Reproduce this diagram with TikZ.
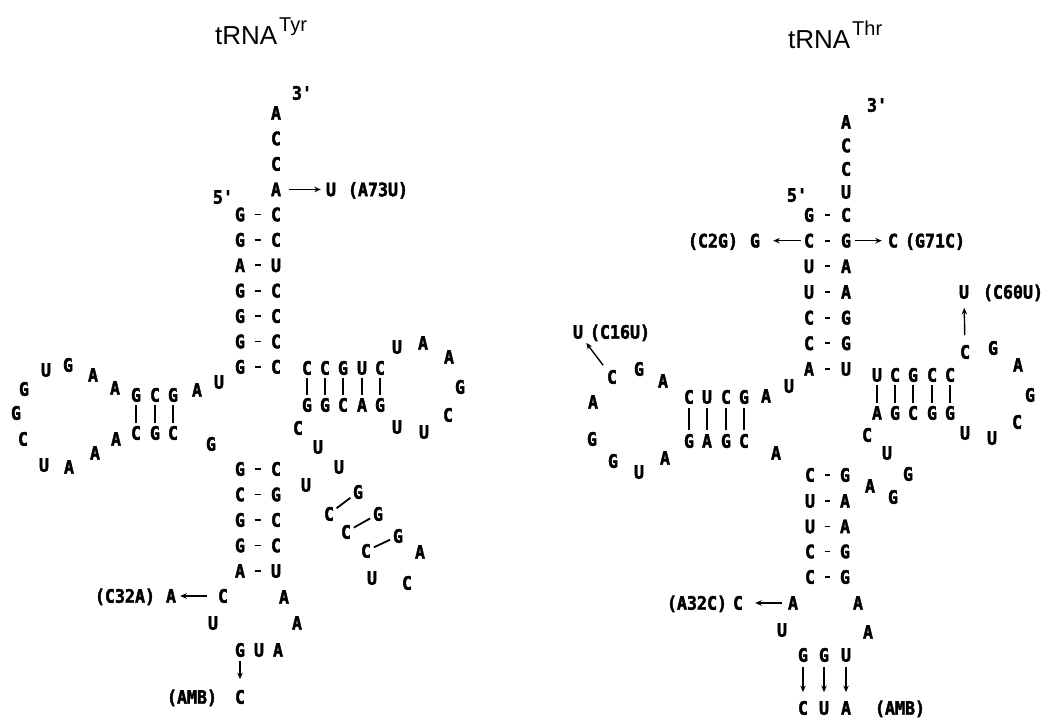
\documentclass[tikz,border=0pt]{standalone}
\usepackage{fontspec}
\usetikzlibrary{arrows.meta}
\newfontfamily\ntfont{DejaVu Sans Mono}[FakeStretch=0.9, BoldFeatures={FakeBold=2.2}]
\newfontfamily\ttlfont{Liberation Sans}
\newcommand\nuc[4]{\node[nt] (#1) at (#2,#3) {#4};}
\begin{document}
\begin{tikzpicture}[x=1pt,y=-1pt,
  nt/.style={font=\ntfont\bfseries\fontsize{18.5}{18.5}\selectfont, inner sep=0pt, text height=13.4pt, text depth=0pt},
  ttl/.style={font=\ttlfont\fontsize{26}{26}\selectfont, inner sep=0pt, anchor=base west},
  ttls/.style={font=\ttlfont\fontsize{20}{20}\selectfont, inner sep=0pt, anchor=base west},
  pr/.style={line width=1.8pt, shorten <=9.5pt, shorten >=9.5pt},
  prR/.style={line width=1.8pt, shorten <=10.5pt, shorten >=10.5pt},
  vb/.style={line width=1.8pt, shorten <=3pt, shorten >=3pt},
  db/.style={line width=1.8pt, shorten <=3pt, shorten >=3pt},
  mut/.style={line width=1.4pt, -{Stealth[length=6.5pt,width=5.5pt]}}]
\fill[white] (0,0) rectangle (1048,721);
\useasboundingbox (0,0) rectangle (1048,721);
% ================= tRNA Tyr =================
\node[ttl] (LT) at (215,44) {tRNA};
\node[ttls] (LTs) at (279,31) {Tyr};
\nuc{L3p}{302}{93}{3'}
\nuc{La1}{276}{113}{A}
\nuc{La2}{276}{138.5}{C}
\nuc{La3}{276}{164}{C}
\nuc{La4}{276}{189.5}{A}
\nuc{LmU}{331}{189.5}{U}
\nuc{LmUl}{378}{189.5}{(A73U)}
\draw[mut, shorten <=8pt, shorten >=5pt] (La4) -- (LmU);
\nuc{L5p}{223}{197}{5'}
% acceptor stem
\foreach \n/\y/\a/\b in {1/214.5/G/C,2/239.9/G/C,3/265.3/A/U,4/290.7/G/C,5/316.1/G/C,6/341.5/G/C,7/366.9/G/C}{
  \node[nt] (Ls\n l) at (240,\y) {\a};
  \node[nt] (Ls\n r) at (276,\y) {\b};
  \draw[pr] (Ls\n l) -- (Ls\n r);
}
% D arm
\nuc{Ld1}{219}{382}{U}
\nuc{Ld2}{197}{390}{A}
\nuc{Ld3}{173}{395}{G}
\nuc{Ld4}{155}{395}{C}
\nuc{Ld5}{136}{395}{G}
\nuc{Ld6}{115}{388}{A}
\nuc{Ld7}{93}{375}{A}
\nuc{Ld8}{68}{365}{G}
\nuc{Ld9}{46}{370}{U}
\nuc{Ld10}{24}{389}{G}
\nuc{Ld11}{16}{413}{G}
\nuc{Ld12}{23}{439}{C}
\nuc{Ld13}{44}{465}{U}
\nuc{Ld14}{69}{467}{A}
\nuc{Ld15}{95}{453}{A}
\nuc{Ld16}{116}{439}{A}
\nuc{Ld17}{136}{433}{C}
\nuc{Ld18}{155}{433}{G}
\nuc{Ld19}{173}{433}{C}
\nuc{Ld20}{211}{444}{G}
\draw[vb] (Ld5) -- (Ld17);
\draw[vb] (Ld4) -- (Ld18);
\draw[vb] (Ld3) -- (Ld19);
% T arm
\foreach \n/\x/\a/\b in {1/307/C/G,2/325/C/G,3/343/G/C,4/362/U/A,5/380/C/G}{
  \node[nt] (Lt\n u) at (\x,368) {\a};
  \node[nt] (Lt\n d) at (\x,405) {\b};
  \draw[vb] (Lt\n u) -- (Lt\n d);
}
\nuc{Ltl1}{397}{347}{U}
\nuc{Ltl2}{423}{343}{A}
\nuc{Ltl3}{449}{357}{A}
\nuc{Ltl4}{460}{387}{G}
\nuc{Ltl5}{448}{415}{C}
\nuc{Ltl6}{424}{432}{U}
\nuc{Ltl7}{397}{427}{U}
% variable arm
\nuc{Lv1}{298}{428}{C}
\nuc{Lv2}{318}{447}{U}
\nuc{Lv3}{339}{467}{U}
\nuc{Lv4}{306}{485}{U}
\nuc{Lv5}{358}{492}{G}
\nuc{Lv6}{329}{514}{C}
\nuc{Lv7}{378}{514}{G}
\nuc{Lv8}{346}{532}{C}
\nuc{Lv9}{398}{536}{G}
\nuc{Lv10}{366}{551}{C}
\nuc{Lv11}{420}{552}{A}
\nuc{Lv12}{407}{583}{C}
\nuc{Lv13}{372}{578}{U}
\draw[db] (Lv6) -- (Lv5);
\draw[db] (Lv8) -- (Lv7);
\draw[db] (Lv10) -- (Lv9);
% anticodon stem
\foreach \n/\y/\a/\b in {1/469/G/C,2/494.5/C/G,3/520/G/C,4/545.5/G/C,5/571/A/U}{
  \node[nt] (Lc\n l) at (240,\y) {\a};
  \node[nt] (Lc\n r) at (276,\y) {\b};
  \draw[pr] (Lc\n l) -- (Lc\n r);
}
\nuc{Lal1}{223}{596}{C}
\nuc{Lal2}{213}{623}{U}
\nuc{Lal3}{240}{650}{G}
\nuc{Lal4}{259}{650}{U}
\nuc{Lal5}{278}{650}{A}
\nuc{Lal6}{297}{623}{A}
\nuc{Lal7}{284}{597}{A}
\nuc{LmA}{171}{596}{A}
\nuc{LmAl}{125}{596}{(C32A)}
\draw[mut, shorten <=11pt, shorten >=4pt] (Lal1) -- (LmA);
\nuc{LmC}{240}{697}{C}
\nuc{LmCl}{192}{697}{(AMB)}
\draw[mut, shorten <=4pt, shorten >=11pt] (Lal3) -- (LmC);
% ================= tRNA Thr =================
\node[ttl] (RT) at (788,48) {tRNA};
\node[ttls] (RTs) at (852,35) {Thr};
\nuc{R3p}{877}{105}{3'}
\nuc{Ra1}{846}{122}{A}
\nuc{Ra2}{846}{145.5}{C}
\nuc{Ra3}{846}{169}{C}
\nuc{Ra4}{846}{192}{U}
\nuc{R5p}{797}{195}{5'}
\foreach \n/\y/\a/\b in {1/215/G/C,2/240.7/C/G,3/266.3/U/A,4/292/U/A,5/317.7/C/G,6/343.3/C/G,7/369/A/U}{
  \node[nt] (Rs\n l) at (809,\y) {\a};
  \node[nt] (Rs\n r) at (846,\y) {\b};
  \draw[prR] (Rs\n l) -- (Rs\n r);
}
\nuc{RmG}{755}{240.7}{G}
\nuc{RmGl}{713}{240.7}{(C2G)}
\draw[mut, shorten <=3pt, shorten >=13pt] (Rs2l) -- (RmG);
\nuc{RmC}{893}{240.7}{C}
\nuc{RmCl}{935}{240.7}{(G71C)}
\draw[mut, shorten <=4pt, shorten >=6pt] (Rs2r) -- (RmC);
% D arm
\nuc{Rd1}{789}{386}{U}
\nuc{Rd2}{766}{396}{A}
\foreach \n/\x/\a/\b in {1/744/G/C,2/726/C/G,3/707/U/A,4/689/C/G}{
  \node[nt] (Rd\n u) at (\x,397) {\a};
  \node[nt] (Rd\n d) at (\x,441) {\b};
  \draw[vb, shorten <=4pt, shorten >=4pt] (Rd\n u) -- (Rd\n d);
}
\nuc{Rdl1}{663}{381}{A}
\nuc{Rdl2}{639}{369}{G}
\nuc{Rdl3}{612}{377}{C}
\nuc{Rdl4}{593}{402}{A}
\nuc{Rdl5}{592}{439}{G}
\nuc{Rdl6}{613}{461}{G}
\nuc{Rdl7}{639}{472}{U}
\nuc{Rdl8}{665}{458}{A}
\nuc{Rd3}{776}{453}{A}
\nuc{RmU}{578}{332}{U}
\nuc{RmUl}{620}{332}{(C16U)}
\draw[mut, shorten <=6pt, shorten >=5pt] (Rdl3) -- (RmU);
% T arm
\foreach \n/\x/\a/\b in {1/877/U/A,2/895/C/G,3/913/G/C,4/932/C/G,5/950/C/G}{
  \node[nt] (Rt\n u) at (\x,375) {\a};
  \node[nt] (Rt\n d) at (\x,413) {\b};
  \draw[vb] (Rt\n u) -- (Rt\n d);
}
\nuc{Rtl1}{965}{352}{C}
\nuc{Rtl2}{993}{348}{G}
\nuc{Rtl3}{1018}{365}{A}
\nuc{Rtl4}{1030}{395}{G}
\nuc{Rtl5}{1017}{422}{C}
\nuc{Rtl6}{992}{438}{U}
\nuc{Rtl7}{965}{433}{U}
\nuc{RmT}{964}{292}{U}
\nuc{RmTl}{1013}{292}{(C60U)}
\draw[mut, shorten <=10pt, shorten >=9pt] (Rtl1) -- (RmT);
% variable loop
\nuc{Rv1}{867}{435}{C}
\nuc{Rv2}{887}{453}{U}
\nuc{Rv3}{908}{474}{G}
\nuc{Rv4}{893}{497}{G}
\nuc{Rv5}{870}{486}{A}
% anticodon stem
\foreach \n/\y/\a/\b in {1/475/C/G,2/501/U/A,3/526.5/U/A,4/551.5/C/G,5/577/C/G}{
  \node[nt] (Rc\n l) at (810,\y) {\a};
  \node[nt] (Rc\n r) at (845,\y) {\b};
  \draw[pr] (Rc\n l) -- (Rc\n r);
}
\nuc{Ral1}{793}{603}{A}
\nuc{Ral2}{782}{630}{U}
\nuc{Ral3}{803}{655}{G}
\nuc{Ral4}{824}{655}{G}
\nuc{Ral5}{846}{655}{U}
\nuc{Ral6}{868}{632}{A}
\nuc{Ral7}{858}{603}{A}
\nuc{RmA}{738}{603}{C}
\nuc{RmAl}{697}{603}{(A32C)}
\draw[mut, shorten <=6pt, shorten >=12pt] (Ral1) -- (RmA);
\nuc{Rb1}{803}{708}{C}
\nuc{Rb2}{824}{708}{U}
\nuc{Rb3}{846}{708}{A}
\nuc{Rbl}{900}{708}{(AMB)}
\draw[mut, shorten <=5pt, shorten >=9pt] (Ral3) -- (Rb1);
\draw[mut, shorten <=5pt, shorten >=9pt] (Ral4) -- (Rb2);
\draw[mut, shorten <=5pt, shorten >=9pt] (Ral5) -- (Rb3);
\end{tikzpicture}
\end{document}
